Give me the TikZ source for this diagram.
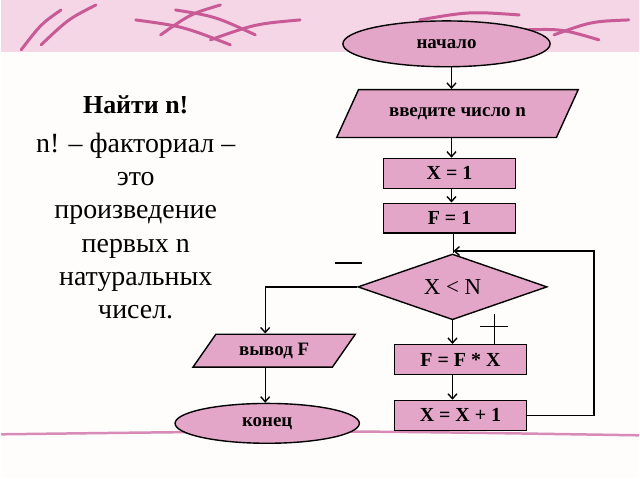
\documentclass[tikz,border=0pt]{standalone}
\usepackage{fontspec}
\setmainfont{Liberation Serif}
\usetikzlibrary{positioning}
\usetikzlibrary{shapes.geometric}
\usetikzlibrary{arrows.meta}
\definecolor{blockpink}{RGB}{228,166,200}
\definecolor{swoosh}{RGB}{200,90,150}
\definecolor{bandpink}{RGB}{244,214,230}
\tikzset{
  block/.style={draw, line width=1.4pt, fill=blockpink, minimum width=132pt, minimum height=30pt, font=\bfseries\fontsize{20}{22}\selectfont},
  terminal/.style={draw, line width=1.4pt, ellipse, fill=blockpink, font=\bfseries\fontsize{19}{21}\selectfont},
  io/.style={draw, line width=1.4pt, trapezium, trapezium stretches=true, fill=blockpink, font=\bfseries\fontsize{19}{21}\selectfont},
  cond/.style={draw, line width=1.4pt, diamond, aspect=2.9, fill=blockpink, inner sep=2pt, font=\fontsize{23}{25}\selectfont},
  flow/.style={line width=1.4pt, -{Straight Barb[length=5pt,width=9pt]}}
}
\begin{document}
\begin{tikzpicture}[x=1pt,y=-1pt]
            % Background
            \fill[white!96!pink] (0,0) rectangle (640,480);
            \fill[bandpink] (0,0) rectangle (640,52);
            \foreach \xa/\ya/\xb/\yb in {20/50/60/10, 40/45/95/5, 160/35/220/5, 135/20/230/45, 175/10/255/35, 210/40/300/20, 420/20/520/15, 555/35/630/20, 525/30/600/40} {
              \draw[swoosh, line width=3pt, line cap=round] (\xa,\ya) .. controls ({(\xa+\xb)/2},{(\ya+\yb)/2-6}) .. (\xb,\yb);
            }
            \draw[swoosh!70, line width=2.5pt] (0,436) .. controls (320,432) .. (640,437);
            
            % Text
            \node[font=\bfseries\fontsize{26}{28}\selectfont] (title) at (135,105) {Найти n!};
            \node[align=center, font=\fontsize{28}{33.5}\selectfont, below=12pt of title] (def) {n! – факториал –\\это\\произведение\\первых n\\натуральных\\чисел.};
            
            % Blocks
            \node[terminal, minimum width=208pt, minimum height=46pt] (start) at (447,44) {начало};
            \node[io, trapezium left angle=50, trapezium right angle=130, minimum width=243pt, minimum height=48pt] (input) at (458,114) {введите число n};
            \node[block] (xone) at (450,174) {X = 1};
            \node[block] (fone) at (450,219) {F = 1};
            \node[cond, minimum width=190pt, minimum height=66pt] (check) at (453,288) {X < N};
            \node[block] (mult) at (461,361) {F = F * X};
            \node[block] (incr) at (461,417) {X = X + 1};
            \node[io, trapezium left angle=56, trapezium right angle=124, minimum width=163pt, minimum height=33pt] (output) at (274,352) {вывод F};
            \node[terminal, minimum width=185pt, minimum height=40pt] (stop) at (267,425) {конец};
            
            % Connectors
            \draw[flow] (start.south -| 452,0) -- (input.north -| 452,0);
            \draw[flow] (input.south -| 452,0) -- (xone.north -| 452,0);
            \draw[flow] (xone.south -| 452,0) -- (fone.north -| 452,0);
            \draw[line width=1.4pt] (fone.south -| 454,0) -- (check.north -| 454,0);
            \draw[flow] (check.south) -- (mult.north -| check.south);
            \draw[flow] (mult.south -| 453,0) -- (incr.north -| 453,0);
            \draw[flow] (incr.east) -- (595,417) -- (595,252) -- (454,252);
            \draw[flow] (check.west) -- (265,288) -- (output.north -| 265,0);
            \draw[flow] (output.south -| 265,0) -- (stop.north -| 265,0);
            
            % Signs
            \draw[line width=1.4pt] (335,264) -- (362,264) coordinate (minus);
            \draw[line width=1.4pt] (481,328) -- (509,328) (495,315) -- (mult.north -| 495,0);
        \end{tikzpicture}
\end{document}
